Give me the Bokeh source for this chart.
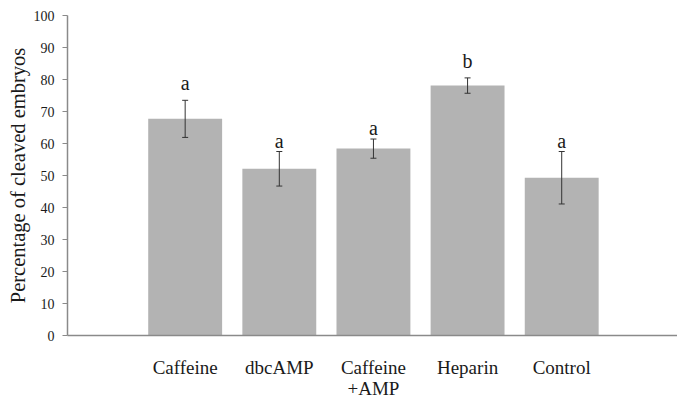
from bokeh.plotting import figure
from bokeh.models import ColumnDataSource, Range1d, FixedTicker, Whisker, TeeHead
from bokeh.core.properties import value
from bokeh.embed import file_html
from bokeh.resources import INLINE

categories = ["Caffeine", "dbcAMP", "Caffeine\n+AMP", "Heparin", "Control"]
means = [67.7, 52.1, 58.4, 78.1, 49.3]
errors = [5.8, 5.4, 3.0, 2.4, 8.2]
letters = ["a", "a", "a", "b", "a"]
letter_y = [79.0, 60.7, 64.9, 85.9, 60.7]
y_ticks = [0, 10, 20, 30, 40, 50, 60, 70, 80, 90, 100]

idx = list(range(len(categories)))
src = ColumnDataSource(dict(
    x=idx, top=means,
    upper=[m + e for m, e in zip(means, errors)],
    lower=[m - e for m, e in zip(means, errors)],
    letter=letters, ly=letter_y,
))

FONT = "Liberation Serif"

p = figure(width=677, height=403, output_backend="svg", toolbar_location=None,
           x_range=Range1d(-1.25, 5.23), y_range=Range1d(0, 100),
           min_border_left=67, min_border_right=0, min_border_top=15,
           min_border_bottom=68)
p.outline_line_color = None
p.grid.grid_line_color = None
p.background_fill_color = "white"

p.vbar(x="x", top="top", width=0.785, bottom=0, source=src,
       fill_color="#b3b3b3", line_color=None)

w = Whisker(base="x", upper="upper", lower="lower", source=src, level="annotation",
            line_color="#333333", line_width=1,
            upper_head=TeeHead(size=6, line_color="#333333", line_width=1),
            lower_head=TeeHead(size=6, line_color="#333333", line_width=1))
p.add_layout(w)

p.text(x="x", y="ly", text="letter", source=src, text_align="center",
       text_baseline="alphabetic", text_font=value(FONT),
       text_font_size="20px", text_color="#1a1a1a")

# x axis
xa = p.xaxis[0]
xa.ticker = FixedTicker(ticks=idx)
xa.major_label_overrides = {i: c for i, c in zip(idx, categories)}
xa.major_tick_line_color = None
xa.minor_tick_line_color = None
xa.axis_line_color = "#8a8a8a"
xa.axis_line_width = 1.5
xa.major_label_text_font = FONT
xa.major_label_text_font_size = "19px"
xa.major_label_text_color = "#1a1a1a"
xa.major_label_standoff = 15
xa.major_label_text_line_height = 1.0

# y axis
ya = p.yaxis[0]
ya.ticker = FixedTicker(ticks=y_ticks)
ya.major_tick_in = 0
ya.major_tick_out = 5
ya.major_tick_line_color = "#8a8a8a"
ya.minor_tick_line_color = None
ya.axis_line_color = "#8a8a8a"
ya.axis_line_width = 1.5
ya.major_label_text_font = FONT
ya.major_label_text_font_size = "14px"
ya.major_label_text_color = "#1a1a1a"
ya.major_label_standoff = 8
ya.axis_label = "Percentage of cleaved embryos"
ya.axis_label_text_font = FONT
ya.axis_label_text_font_size = "20.5px"
ya.axis_label_text_font_style = "normal"
ya.axis_label_text_color = "#1a1a1a"
ya.axis_label_standoff = 2

open("out.html", "w").write(file_html(p, INLINE))
